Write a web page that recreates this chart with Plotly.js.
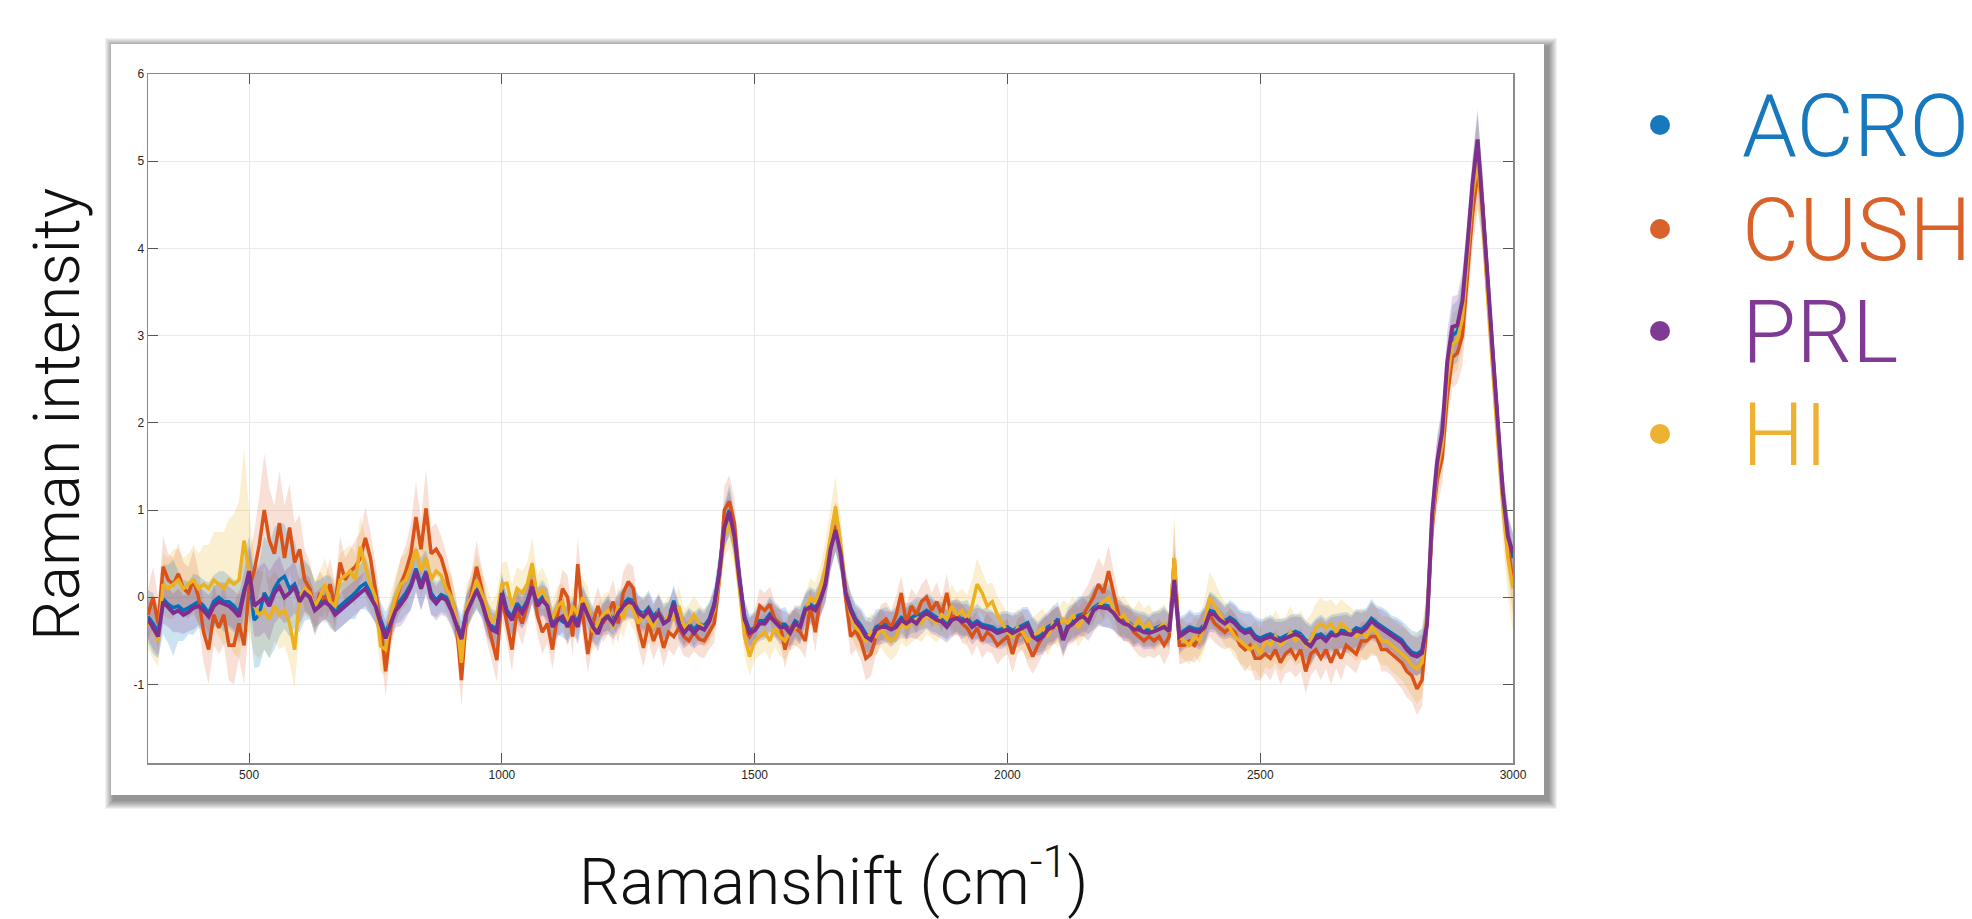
<!DOCTYPE html>
<html>
<head>
<meta charset="utf-8">
<script src="https://cdn.plot.ly/plotly-3.0.1.min.js"></script>
<style>
html,body{margin:0;padding:0;background:#ffffff;}
#chart{width:1972px;height:919px;}
</style>
</head>
<body>
<div id="chart"></div>
<script>
// ---------------- DATA ----------------
const seriesNames = ['ACRO', 'CUSH', 'PRL', 'HI'];
const xTickVals = [500, 1000, 1500, 2000, 2500, 3000];
const yTickVals = [-1, 0, 1, 2, 3, 4, 5, 6];
const shiftStart = 300, shiftStep = 10, shiftCount = 271;   // Raman shift grid, cm-1
const ramanShift = Array.from({length: shiftCount}, (_, i) => shiftStart + i * shiftStep);

// mean spectra (one row = 100 cm-1, 10 samples)
const acroMean = [
-0.22,-0.3,-0.4,-0.02,-0.08,-0.12,-0.1,-0.15,-0.12,-0.08,
-0.05,-0.1,-0.18,-0.05,0.0,-0.05,-0.05,-0.1,-0.18,0.08,
0.25,-0.26,-0.2,0.05,-0.05,0.1,0.2,0.24,0.1,0.15,
0.0,0.08,0.05,-0.12,-0.05,0.0,-0.05,-0.15,-0.1,-0.05,
0.0,0.05,0.12,0.16,0.05,-0.05,-0.25,-0.42,-0.25,-0.1,
-0.03,0.05,0.15,0.33,0.15,0.3,0.05,-0.03,0.03,0.0,
-0.12,-0.28,-0.45,-0.15,-0.02,0.1,-0.02,-0.22,-0.33,-0.36,
0.08,-0.15,-0.22,-0.07,-0.15,-0.04,0.14,-0.07,0.0,-0.07,
-0.3,-0.22,-0.28,-0.3,-0.18,-0.3,-0.04,-0.18,-0.3,-0.38,
-0.22,-0.18,-0.26,-0.14,-0.07,-0.02,-0.04,-0.15,-0.19,-0.12,
-0.22,-0.15,-0.27,-0.23,-0.04,-0.27,-0.37,-0.3,-0.37,-0.3,
-0.33,-0.25,-0.07,0.3,0.82,1.0,0.72,0.22,-0.22,-0.38,
-0.35,-0.27,-0.27,-0.19,-0.25,-0.31,-0.31,-0.38,-0.27,-0.31,
-0.12,-0.08,-0.12,0.0,0.18,0.58,0.8,0.53,0.08,-0.12,
-0.25,-0.32,-0.42,-0.46,-0.34,-0.31,-0.31,-0.34,-0.31,-0.23,
-0.27,-0.23,-0.2,-0.19,-0.15,-0.19,-0.23,-0.25,-0.31,-0.23,
-0.21,-0.25,-0.23,-0.31,-0.27,-0.31,-0.32,-0.34,-0.38,-0.36,
-0.34,-0.38,-0.35,-0.31,-0.29,-0.42,-0.46,-0.42,-0.34,-0.31,
-0.25,-0.46,-0.31,-0.27,-0.21,-0.19,-0.2,-0.12,-0.08,-0.09,
-0.1,-0.15,-0.23,-0.27,-0.29,-0.34,-0.34,-0.37,-0.38,-0.36,
-0.33,-0.31,-0.36,0.25,-0.42,-0.38,-0.34,-0.36,-0.37,-0.31,
-0.15,-0.17,-0.23,-0.27,-0.23,-0.27,-0.34,-0.38,-0.36,-0.44,
-0.47,-0.44,-0.42,-0.45,-0.47,-0.44,-0.42,-0.39,-0.42,-0.49,
-0.53,-0.44,-0.42,-0.47,-0.4,-0.41,-0.38,-0.39,-0.4,-0.35,
-0.37,-0.32,-0.24,-0.29,-0.33,-0.37,-0.41,-0.45,-0.49,-0.57,
-0.63,-0.65,-0.61,-0.27,0.9,1.5,1.85,2.6,3.0,3.05,
3.3,3.95,4.65,5.15,4.45,3.6,2.75,1.9,1.15,0.65,
0.45];

const cushMean = [
-0.2,0.0,-0.3,0.35,0.2,0.15,0.27,0.1,0.05,0.2,
0.0,-0.4,-0.6,-0.2,-0.35,-0.2,-0.55,-0.55,-0.3,-0.55,
0.1,0.3,0.6,1.0,0.65,0.5,0.85,0.45,0.8,0.4,
0.55,0.2,0.1,-0.15,0.05,-0.05,0.15,-0.1,0.4,0.2,
0.3,0.35,0.45,0.68,0.45,0.1,-0.3,-0.85,-0.35,-0.05,
0.15,0.3,0.5,0.92,0.55,1.02,0.5,0.55,0.45,0.25,
0.0,-0.3,-0.95,-0.2,0.05,0.35,0.1,-0.25,-0.5,-0.72,
0.0,-0.3,-0.6,-0.15,-0.3,-0.1,0.2,-0.2,-0.4,-0.3,
-0.6,-0.2,0.1,0.0,-0.45,0.38,-0.2,-0.65,-0.3,-0.1,
-0.3,-0.2,-0.05,-0.3,0.05,0.18,0.1,-0.35,-0.58,-0.3,
-0.5,-0.35,-0.58,-0.4,-0.45,-0.35,-0.45,-0.5,-0.4,-0.48,
-0.5,-0.4,-0.3,0.2,1.0,1.1,0.85,0.2,-0.35,-0.45,
-0.35,-0.1,-0.15,-0.08,-0.25,-0.3,-0.6,-0.35,-0.35,-0.4,
-0.5,-0.1,-0.4,0.0,0.2,0.55,0.82,0.55,0.0,-0.45,
-0.38,-0.5,-0.7,-0.65,-0.45,-0.3,-0.25,-0.35,-0.2,0.05,
-0.3,-0.1,-0.2,-0.05,0.0,-0.15,-0.05,-0.2,0.05,-0.25,
-0.2,-0.3,-0.35,-0.45,-0.35,-0.5,-0.4,-0.45,-0.55,-0.5,
-0.45,-0.65,-0.45,-0.4,-0.55,-0.68,-0.55,-0.45,-0.4,-0.35,
-0.3,-0.45,-0.35,-0.3,-0.25,-0.2,-0.1,0.0,0.15,0.05,
0.3,0.05,-0.2,-0.3,-0.3,-0.4,-0.45,-0.5,-0.45,-0.5,
-0.45,-0.55,-0.45,0.45,-0.55,-0.55,-0.5,-0.55,-0.45,-0.35,
-0.2,-0.3,-0.35,-0.4,-0.35,-0.4,-0.55,-0.6,-0.55,-0.7,
-0.7,-0.65,-0.7,-0.6,-0.75,-0.65,-0.6,-0.7,-0.6,-0.85,
-0.65,-0.6,-0.7,-0.6,-0.75,-0.6,-0.7,-0.55,-0.6,-0.65,
-0.5,-0.5,-0.45,-0.45,-0.6,-0.6,-0.65,-0.7,-0.75,-0.85,
-0.9,-1.05,-0.95,-0.3,0.8,1.35,1.6,2.3,2.75,2.8,
3.0,3.7,4.4,4.85,4.5,3.5,2.7,1.9,1.15,0.6,
0.15];

const prlMean = [
-0.25,-0.35,-0.45,-0.05,-0.12,-0.18,-0.15,-0.2,-0.17,-0.12,
-0.1,-0.15,-0.22,-0.1,-0.05,-0.08,-0.1,-0.15,-0.22,0.05,
0.3,-0.1,-0.05,0.0,-0.1,0.05,0.12,0.0,0.05,0.12,
-0.05,0.05,0.0,-0.15,-0.1,-0.05,-0.1,-0.2,-0.15,-0.1,
-0.05,0.0,0.05,0.1,0.0,-0.1,-0.3,-0.47,-0.3,-0.15,
-0.08,0.0,0.12,0.3,0.1,0.28,0.0,-0.07,0.0,-0.03,
-0.15,-0.3,-0.48,-0.18,-0.05,0.08,-0.05,-0.25,-0.37,-0.4,
0.05,-0.18,-0.26,-0.1,-0.18,-0.07,0.12,-0.1,-0.03,-0.1,
-0.34,-0.26,-0.22,-0.34,-0.22,-0.34,-0.07,-0.22,-0.34,-0.42,
-0.26,-0.22,-0.3,-0.18,-0.1,-0.05,-0.07,-0.18,-0.22,-0.15,
-0.26,-0.18,-0.3,-0.26,-0.07,-0.3,-0.41,-0.34,-0.41,-0.34,
-0.37,-0.28,-0.1,0.27,0.8,0.98,0.7,0.2,-0.25,-0.41,
-0.38,-0.3,-0.3,-0.22,-0.28,-0.34,-0.34,-0.41,-0.3,-0.34,
-0.15,-0.11,-0.15,-0.03,0.15,0.55,0.77,0.5,0.05,-0.15,
-0.28,-0.35,-0.45,-0.49,-0.37,-0.34,-0.34,-0.37,-0.34,-0.26,
-0.3,-0.26,-0.3,-0.22,-0.18,-0.22,-0.26,-0.28,-0.34,-0.26,
-0.24,-0.28,-0.26,-0.34,-0.3,-0.34,-0.35,-0.37,-0.41,-0.39,
-0.37,-0.41,-0.38,-0.34,-0.32,-0.45,-0.49,-0.45,-0.37,-0.34,
-0.28,-0.49,-0.34,-0.3,-0.24,-0.22,-0.28,-0.15,-0.11,-0.12,
-0.13,-0.18,-0.26,-0.3,-0.32,-0.37,-0.37,-0.4,-0.41,-0.39,
-0.36,-0.34,-0.39,0.2,-0.45,-0.41,-0.37,-0.39,-0.4,-0.34,
-0.18,-0.2,-0.26,-0.3,-0.26,-0.3,-0.37,-0.41,-0.39,-0.47,
-0.5,-0.47,-0.45,-0.48,-0.5,-0.47,-0.45,-0.42,-0.45,-0.52,
-0.56,-0.47,-0.45,-0.5,-0.43,-0.44,-0.41,-0.42,-0.43,-0.38,
-0.4,-0.35,-0.27,-0.32,-0.36,-0.4,-0.44,-0.48,-0.52,-0.6,
-0.66,-0.68,-0.64,-0.3,0.95,1.55,1.9,2.7,3.1,3.12,
3.4,4.05,4.75,5.25,4.5,3.65,2.8,1.95,1.2,0.7,
0.5];

const hiMean = [
-0.3,-0.35,-0.5,0.15,0.1,0.15,0.2,0.1,0.15,0.2,
0.1,0.15,0.1,0.2,0.15,0.1,0.2,0.15,0.2,0.65,
0.3,-0.1,-0.2,-0.15,-0.25,-0.1,-0.2,-0.15,-0.3,-0.6,
0.0,0.1,0.05,-0.1,0.0,0.15,-0.05,-0.1,0.2,0.25,
0.3,0.2,0.58,0.35,0.15,0.0,-0.56,-0.6,-0.2,0.0,
0.15,0.2,0.35,0.55,0.3,0.45,0.2,0.3,0.25,0.1,
0.0,-0.25,-0.75,-0.1,0.0,0.2,0.05,-0.1,-0.3,-0.2,
0.15,0.16,-0.1,0.1,0.05,0.15,0.39,0.0,0.1,-0.05,
-0.25,-0.1,-0.05,-0.35,-0.1,-0.2,0.0,-0.1,-0.4,-0.3,
-0.2,-0.15,-0.35,-0.1,-0.25,-0.05,-0.15,-0.3,-0.2,-0.25,
-0.35,-0.15,-0.3,-0.2,-0.25,-0.1,-0.35,-0.3,-0.2,-0.3,
-0.35,-0.3,-0.15,0.2,0.7,0.85,0.6,0.1,-0.45,-0.68,
-0.5,-0.45,-0.4,-0.5,-0.35,-0.45,-0.5,-0.4,-0.35,-0.3,
-0.2,0.0,-0.05,0.1,0.35,0.7,1.04,0.6,0.1,-0.2,
-0.35,-0.4,-0.5,-0.4,-0.45,-0.35,-0.45,-0.5,-0.45,-0.3,
-0.35,-0.3,-0.25,-0.3,-0.2,-0.25,-0.3,-0.2,-0.25,-0.1,
-0.2,-0.15,-0.25,-0.1,0.15,0.05,-0.1,-0.05,-0.2,-0.3,
-0.4,-0.45,-0.35,-0.4,-0.5,-0.45,-0.4,-0.35,-0.45,-0.3,
-0.35,-0.25,-0.3,-0.2,-0.35,-0.25,-0.2,-0.15,-0.1,-0.05,
0.0,-0.15,-0.25,-0.2,-0.3,-0.35,-0.25,-0.35,-0.3,-0.4,
-0.35,-0.3,-0.4,0.45,-0.45,-0.5,-0.55,-0.45,-0.5,-0.3,
0.0,-0.1,-0.2,-0.3,-0.35,-0.45,-0.5,-0.55,-0.6,-0.55,
-0.65,-0.5,-0.55,-0.45,-0.55,-0.5,-0.4,-0.5,-0.45,-0.55,
-0.5,-0.35,-0.3,-0.35,-0.3,-0.4,-0.3,-0.35,-0.4,-0.45,
-0.4,-0.45,-0.35,-0.4,-0.5,-0.5,-0.55,-0.6,-0.65,-0.7,
-0.78,-0.82,-0.75,-0.2,0.85,1.45,1.75,2.5,2.9,2.95,
3.2,3.9,4.6,5.0,4.35,3.45,2.6,1.8,1.05,0.45,
0.1];

// standard deviations (shaded bands)
const acroSd = [
0.3,0.35,0.3,0.4,0.45,0.55,0.4,0.35,0.3,0.35,
0.3,0.3,0.35,0.3,0.3,0.35,0.3,0.3,0.35,0.4,
0.45,0.55,0.6,0.65,0.65,0.7,0.65,0.6,0.55,0.5,
0.4,0.35,0.3,0.3,0.25,0.25,0.3,0.25,0.25,0.25,
0.25,0.3,0.25,0.3,0.25,0.25,0.2,0.25,0.2,0.2,
0.25,0.25,0.3,0.25,0.3,0.25,0.25,0.2,0.2,0.2,
0.2,0.2,0.25,0.2,0.2,0.25,0.2,0.2,0.2,0.2,
0.2,0.18,0.2,0.18,0.2,0.2,0.22,0.18,0.2,0.18,
0.18,0.2,0.18,0.2,0.18,0.2,0.18,0.18,0.2,0.18,
0.18,0.2,0.18,0.2,0.18,0.2,0.2,0.18,0.18,0.2,
0.18,0.18,0.2,0.18,0.18,0.2,0.18,0.18,0.2,0.18,
0.18,0.2,0.2,0.22,0.25,0.3,0.25,0.22,0.2,0.18,
0.18,0.2,0.18,0.2,0.18,0.18,0.2,0.18,0.18,0.2,
0.18,0.2,0.2,0.2,0.22,0.25,0.28,0.25,0.2,0.18,
0.18,0.2,0.2,0.22,0.2,0.18,0.2,0.18,0.2,0.18,
0.2,0.18,0.2,0.18,0.2,0.2,0.18,0.2,0.18,0.2,
0.18,0.2,0.2,0.18,0.2,0.18,0.2,0.18,0.18,0.2,
0.18,0.2,0.18,0.2,0.18,0.2,0.18,0.2,0.18,0.2,
0.2,0.18,0.2,0.2,0.22,0.2,0.22,0.25,0.22,0.25,
0.25,0.22,0.2,0.2,0.18,0.2,0.18,0.2,0.18,0.2,
0.18,0.2,0.18,0.3,0.2,0.18,0.2,0.18,0.2,0.2,
0.22,0.2,0.2,0.18,0.2,0.2,0.2,0.22,0.2,0.22,
0.22,0.2,0.22,0.2,0.22,0.2,0.22,0.2,0.22,0.22,
0.22,0.2,0.22,0.22,0.2,0.22,0.2,0.22,0.2,0.22,
0.22,0.2,0.22,0.2,0.22,0.22,0.2,0.22,0.22,0.25,
0.25,0.25,0.25,0.25,0.3,0.3,0.3,0.3,0.35,0.35,
0.35,0.35,0.35,0.4,0.4,0.35,0.35,0.3,0.3,0.3,
0.3];

const cushSd = [
0.3,0.35,0.3,0.35,0.3,0.3,0.35,0.3,0.3,0.35,
0.3,0.35,0.4,0.35,0.3,0.35,0.4,0.45,0.4,0.45,
0.4,0.45,0.55,0.65,0.6,0.55,0.6,0.6,0.5,0.45,
0.4,0.35,0.3,0.3,0.25,0.25,0.3,0.25,0.3,0.25,
0.25,0.3,0.3,0.35,0.3,0.3,0.25,0.3,0.25,0.25,
0.3,0.3,0.35,0.4,0.35,0.45,0.3,0.3,0.25,0.25,
0.25,0.25,0.3,0.25,0.25,0.3,0.25,0.25,0.25,0.25,
0.25,0.22,0.25,0.22,0.25,0.22,0.25,0.22,0.25,0.22,
0.22,0.25,0.22,0.25,0.22,0.3,0.25,0.22,0.22,0.22,
0.22,0.22,0.25,0.22,0.25,0.22,0.25,0.22,0.22,0.22,
0.22,0.2,0.22,0.2,0.22,0.2,0.22,0.2,0.22,0.2,
0.2,0.2,0.22,0.25,0.28,0.3,0.28,0.22,0.2,0.2,
0.2,0.2,0.2,0.2,0.2,0.2,0.22,0.2,0.2,0.2,
0.2,0.2,0.22,0.22,0.25,0.25,0.28,0.25,0.22,0.22,
0.22,0.22,0.25,0.25,0.22,0.22,0.2,0.2,0.22,0.2,
0.22,0.2,0.22,0.2,0.22,0.2,0.22,0.2,0.22,0.2,
0.2,0.22,0.2,0.22,0.2,0.2,0.22,0.2,0.22,0.2,
0.2,0.22,0.2,0.2,0.22,0.2,0.22,0.2,0.2,0.2,
0.2,0.22,0.2,0.22,0.22,0.25,0.25,0.3,0.3,0.3,
0.3,0.25,0.22,0.2,0.22,0.2,0.22,0.2,0.22,0.2,
0.2,0.22,0.2,0.35,0.22,0.2,0.22,0.2,0.22,0.22,
0.25,0.22,0.22,0.2,0.22,0.22,0.22,0.25,0.22,0.25,
0.25,0.22,0.25,0.22,0.25,0.22,0.25,0.22,0.25,0.25,
0.25,0.22,0.25,0.22,0.25,0.22,0.25,0.22,0.22,0.22,
0.22,0.22,0.22,0.22,0.25,0.25,0.25,0.28,0.3,0.3,
0.3,0.3,0.3,0.3,0.3,0.3,0.3,0.3,0.35,0.35,
0.35,0.35,0.4,0.4,0.4,0.4,0.35,0.35,0.35,0.35,
0.35];

const prlSd = [
0.22,0.25,0.22,0.25,0.22,0.22,0.25,0.22,0.22,0.25,
0.22,0.22,0.25,0.22,0.22,0.25,0.22,0.22,0.25,0.25,
0.3,0.35,0.4,0.4,0.4,0.35,0.35,0.3,0.3,0.3,
0.25,0.22,0.22,0.2,0.2,0.2,0.2,0.2,0.2,0.2,
0.2,0.2,0.2,0.2,0.2,0.2,0.2,0.2,0.2,0.2,
0.25,0.25,0.25,0.25,0.25,0.25,0.2,0.2,0.2,0.2,
0.2,0.2,0.2,0.2,0.2,0.2,0.2,0.2,0.2,0.2,
0.18,0.2,0.18,0.2,0.18,0.2,0.18,0.2,0.18,0.2,
0.18,0.2,0.18,0.2,0.18,0.2,0.18,0.2,0.18,0.2,
0.18,0.2,0.18,0.2,0.18,0.2,0.18,0.2,0.18,0.2,
0.18,0.2,0.18,0.2,0.18,0.2,0.18,0.2,0.18,0.2,
0.18,0.2,0.2,0.22,0.25,0.25,0.22,0.2,0.2,0.18,
0.18,0.2,0.18,0.2,0.18,0.2,0.18,0.2,0.18,0.2,
0.18,0.2,0.2,0.2,0.22,0.25,0.25,0.22,0.2,0.18,
0.18,0.2,0.18,0.2,0.18,0.2,0.18,0.2,0.18,0.2,
0.18,0.2,0.18,0.2,0.18,0.2,0.18,0.2,0.18,0.2,
0.18,0.2,0.18,0.2,0.18,0.2,0.18,0.2,0.18,0.2,
0.18,0.2,0.18,0.2,0.18,0.2,0.18,0.2,0.18,0.2,
0.18,0.2,0.18,0.2,0.2,0.22,0.22,0.25,0.22,0.22,
0.22,0.2,0.18,0.2,0.18,0.2,0.18,0.2,0.18,0.2,
0.18,0.2,0.18,0.3,0.2,0.18,0.2,0.18,0.2,0.2,
0.22,0.2,0.2,0.18,0.2,0.2,0.2,0.22,0.2,0.22,
0.22,0.2,0.22,0.2,0.22,0.2,0.22,0.2,0.22,0.22,
0.22,0.2,0.22,0.22,0.2,0.22,0.2,0.22,0.2,0.22,
0.22,0.2,0.22,0.2,0.22,0.22,0.2,0.22,0.22,0.22,
0.22,0.22,0.22,0.22,0.3,0.3,0.3,0.35,0.35,0.35,
0.35,0.3,0.3,0.35,0.3,0.3,0.25,0.25,0.25,0.22,
0.22];

const hiSd = [
0.3,0.35,0.3,0.35,0.35,0.4,0.35,0.35,0.35,0.4,
0.4,0.45,0.5,0.55,0.6,0.65,0.7,0.8,0.9,1.05,
0.7,0.55,0.5,0.45,0.45,0.4,0.4,0.4,0.45,0.45,
0.35,0.3,0.3,0.3,0.3,0.3,0.3,0.3,0.3,0.3,
0.3,0.3,0.35,0.35,0.3,0.3,0.3,0.3,0.25,0.25,
0.3,0.3,0.3,0.3,0.3,0.3,0.3,0.25,0.25,0.25,
0.25,0.25,0.25,0.25,0.25,0.3,0.25,0.25,0.25,0.25,
0.25,0.25,0.25,0.25,0.25,0.25,0.3,0.25,0.25,0.25,
0.22,0.22,0.22,0.22,0.22,0.22,0.22,0.22,0.22,0.22,
0.22,0.22,0.22,0.22,0.22,0.22,0.22,0.22,0.22,0.22,
0.22,0.22,0.22,0.22,0.22,0.22,0.22,0.22,0.22,0.22,
0.22,0.22,0.22,0.25,0.25,0.28,0.25,0.22,0.22,0.22,
0.22,0.22,0.22,0.22,0.22,0.22,0.22,0.22,0.22,0.22,
0.22,0.22,0.22,0.25,0.3,0.35,0.35,0.3,0.25,0.22,
0.22,0.22,0.22,0.22,0.22,0.22,0.22,0.22,0.22,0.22,
0.22,0.22,0.22,0.22,0.22,0.22,0.22,0.22,0.22,0.25,
0.25,0.25,0.28,0.3,0.3,0.25,0.25,0.22,0.22,0.22,
0.22,0.22,0.22,0.22,0.22,0.22,0.22,0.22,0.22,0.22,
0.22,0.22,0.22,0.22,0.22,0.22,0.22,0.22,0.22,0.22,
0.22,0.22,0.22,0.22,0.22,0.22,0.22,0.22,0.22,0.22,
0.22,0.22,0.22,0.5,0.22,0.22,0.22,0.22,0.25,0.28,
0.3,0.28,0.25,0.25,0.25,0.25,0.25,0.25,0.25,0.28,
0.28,0.3,0.28,0.3,0.3,0.28,0.3,0.28,0.3,0.28,
0.3,0.28,0.3,0.3,0.28,0.3,0.28,0.28,0.28,0.28,
0.28,0.28,0.28,0.28,0.28,0.28,0.3,0.3,0.3,0.35,
0.35,0.4,0.4,0.35,0.3,0.3,0.3,0.35,0.35,0.35,
0.35,0.35,0.4,0.5,0.4,0.35,0.35,0.35,0.4,0.45,
0.5];

// ---------------- STYLE ----------------
const lineColors = {ACRO: '#0072BD', CUSH: '#D95319', PRL: '#7E2F8E', HI: '#EDB120'};
const bandColors = {ACRO: 'rgba(0,114,189,0.20)', CUSH: 'rgba(217,83,25,0.18)', PRL: 'rgba(126,47,142,0.20)', HI: 'rgba(237,177,32,0.20)'};
const legendColors = {ACRO: '#1878BE', CUSH: '#D9622A', PRL: '#7F3A95', HI: '#EDB232'};
const meanBy = {ACRO: acroMean, CUSH: cushMean, PRL: prlMean, HI: hiMean};
const sdBy = {ACRO: acroSd, CUSH: cushSd, PRL: prlSd, HI: hiSd};

const traces = [];
['HI', 'CUSH', 'ACRO', 'PRL'].forEach(name => {
  const m = meanBy[name], s = sdBy[name];
  const upper = m.map((v, i) => v + s[i]);
  const lower = m.map((v, i) => v - s[i]);
  traces.push({
    x: ramanShift.concat(ramanShift.slice().reverse()),
    y: upper.concat(lower.slice().reverse()),
    type: 'scatter', mode: 'lines', fill: 'toself',
    fillcolor: bandColors[name], line: {width: 0},
    hoverinfo: 'skip', showlegend: false
  });
});
['ACRO', 'CUSH', 'HI', 'PRL'].forEach(name => {
  traces.push({
    x: ramanShift, y: meanBy[name], type: 'scatter', mode: 'lines', name: name,
    line: {color: lineColors[name], width: name === 'PRL' ? 4 : 3.5},
    showlegend: false
  });
});

// ---------------- LAYOUT ----------------
const L = 148, R = 1513, T = 74, B = 763;
const PW = R - L, PH = B - T;
const px = v => (v - L) / PW;
const py = v => (B - v) / PH;

const shapes = [];
// soft drop shadow of the figure panel
for (let k = 9; k >= 1; k--) {
  shapes.push({type: 'rect', xref: 'paper', yref: 'paper', layer: 'below',
    x0: px(111 + 3 - k), x1: px(1544 + 4 + k), y0: py(795 + 5 + k), y1: py(44 + 3 - k),
    fillcolor: 'rgba(0,0,0,0.055)', line: {width: 0}});
}
shapes.push({type: 'rect', xref: 'paper', yref: 'paper', layer: 'below',
  x0: px(111), x1: px(1544), y0: py(795), y1: py(44),
  fillcolor: '#ffffff', line: {width: 0}});

const legendY = [125, 229, 331, 434];
const annotations = [];
seriesNames.forEach((name, i) => {
  shapes.push({type: 'circle', xref: 'paper', yref: 'paper', xsizemode: 'pixel', ysizemode: 'pixel',
    xanchor: px(1660), yanchor: py(legendY[i]), x0: -10, x1: 10, y0: -10, y1: 10,
    fillcolor: legendColors[name], line: {width: 0}});
  annotations.push({xref: 'paper', yref: 'paper', x: px(1740), y: py(legendY[i]),
    xanchor: 'left', yanchor: 'middle', showarrow: false, text: name,
    font: {family: 'Roboto, sans-serif', size: 88, weight: 300, color: legendColors[name]}});
});
annotations.push({xref: 'paper', yref: 'paper', x: px(833), y: py(877), xanchor: 'center', yanchor: 'middle',
  showarrow: false, text: 'Ramanshift (cm<sup>-1</sup>)',
  font: {family: 'Roboto, sans-serif', size: 64, weight: 300, color: '#111111'}});
annotations.push({xref: 'paper', yref: 'paper', x: px(57), y: py(415), xanchor: 'center', yanchor: 'middle',
  showarrow: false, textangle: -90, text: 'Raman intensity',
  font: {family: 'Roboto, sans-serif', size: 64, weight: 300, color: '#111111'}});

const axisCommon = {
  showgrid: true, gridcolor: '#e9e9e9', gridwidth: 1, zeroline: false,
  showline: true, linecolor: '#8a8a8a', linewidth: 1.5, mirror: 'allticks',
  ticks: 'inside', ticklen: 10, tickwidth: 1, tickcolor: '#555555',
  tickfont: {family: 'Liberation Sans, Arial, sans-serif', size: 12, color: '#262626'},
  fixedrange: true
};

const layout = {
  width: 1972, height: 919,
  margin: {l: L, r: 1972 - R, t: T, b: 919 - B, pad: 0},
  paper_bgcolor: '#ffffff', plot_bgcolor: 'rgba(0,0,0,0)',
  showlegend: false,
  xaxis: Object.assign({}, axisCommon, {range: [300, 3000], tickvals: xTickVals, ticktext: xTickVals.map(String)}),
  yaxis: Object.assign({}, axisCommon, {range: [-1.9, 6], tickvals: yTickVals, ticktext: yTickVals.map(String)}),
  shapes: shapes,
  annotations: annotations
};

Plotly.newPlot('chart', traces, layout, {staticPlot: true, displayModeBar: false});
</script>
</body>
</html>
